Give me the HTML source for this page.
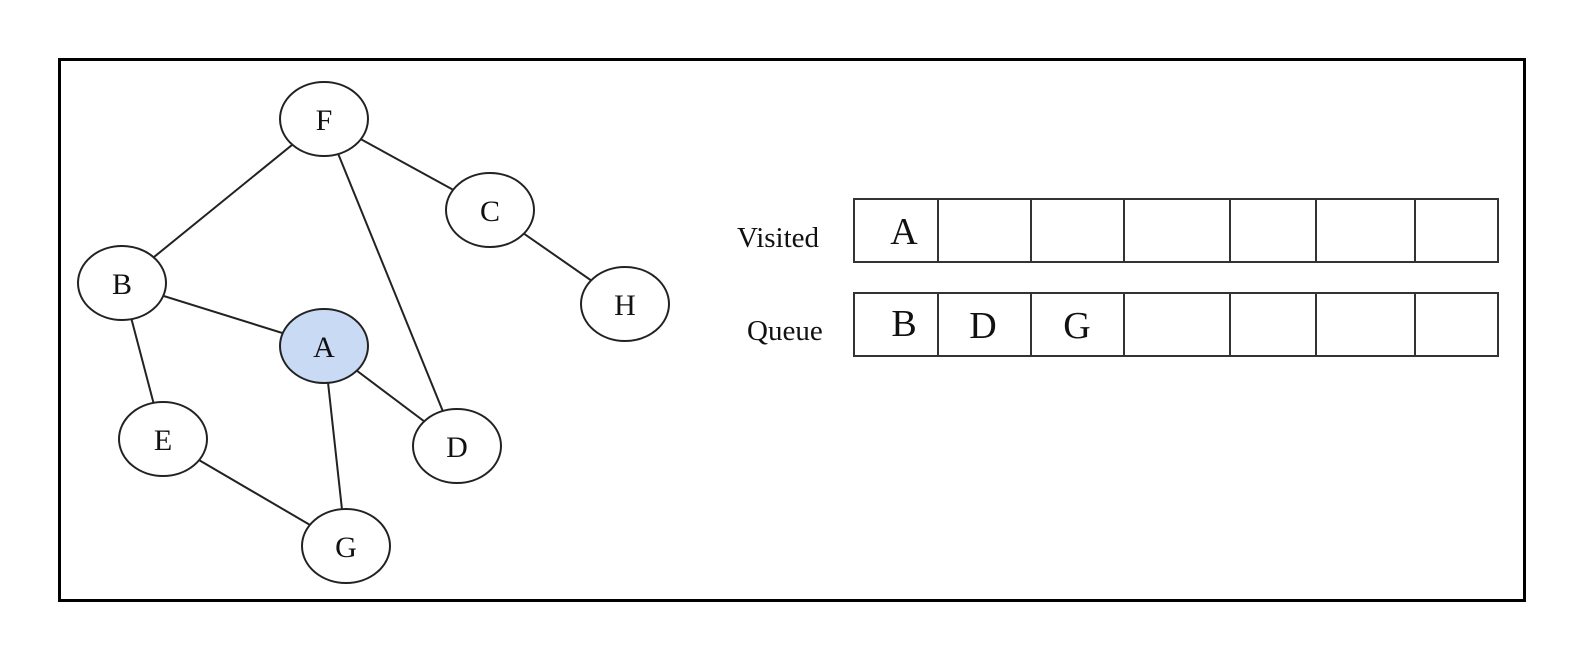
<!DOCTYPE html>
<html><head><meta charset="utf-8"><style>
html,body{margin:0;padding:0;background:#fff;}
svg{display:block;}
text{font-family:"Liberation Serif",serif;fill:#111;}
</style></head><body>
<svg width="1587" height="646" viewBox="0 0 1587 646" xmlns="http://www.w3.org/2000/svg">
<rect x="0" y="0" width="1587" height="646" fill="#fff"/>
<rect x="59.5" y="59.5" width="1465" height="541" fill="none" stroke="#000" stroke-width="3"/>
<g stroke="#222" stroke-width="2" fill="none">
<line x1="324" y1="119" x2="122" y2="283"/>
<line x1="324" y1="119" x2="490" y2="210"/>
<line x1="324" y1="119" x2="457" y2="446"/>
<line x1="490" y1="210" x2="625" y2="304"/>
<line x1="122" y1="283" x2="324" y2="346"/>
<line x1="122" y1="283" x2="163" y2="439"/>
<line x1="324" y1="346" x2="457" y2="446"/>
<line x1="324" y1="346" x2="346" y2="546"/>
<line x1="163" y1="439" x2="346" y2="546"/>
</g>
<g stroke="#222" stroke-width="2" fill="#fff">
<ellipse cx="324" cy="119" rx="44" ry="37"/>
<ellipse cx="490" cy="210" rx="44" ry="37"/>
<ellipse cx="122" cy="283" rx="44" ry="37"/>
<ellipse cx="625" cy="304" rx="44" ry="37"/>
<ellipse cx="324" cy="346" rx="44" ry="37" fill="#c9daf5"/>
<ellipse cx="163" cy="439" rx="44" ry="37"/>
<ellipse cx="457" cy="446" rx="44" ry="37"/>
<ellipse cx="346" cy="546" rx="44" ry="37"/>
</g>
<g font-size="30" text-anchor="middle">
<text x="324" y="130">F</text>
<text x="490" y="221">C</text>
<text x="122" y="294">B</text>
<text x="625" y="315">H</text>
<text x="324" y="357">A</text>
<text x="163" y="450">E</text>
<text x="457" y="457">D</text>
<text x="346" y="557">G</text>
</g>
<g stroke="#333" stroke-width="2" fill="none">
<rect x="854" y="199" width="644" height="63"/>
<rect x="854" y="293" width="644" height="63"/>
<path d="M938 199V262M1031 199V262M1124 199V262M1230 199V262M1316 199V262M1415 199V262"/>
<path d="M938 293V356M1031 293V356M1124 293V356M1230 293V356M1316 293V356M1415 293V356"/>
</g>
<text x="737" y="247" font-size="29">Visited</text>
<text x="747" y="340" font-size="29">Queue</text>
<g font-size="38" text-anchor="middle">
<text x="904" y="244">A</text>
<text x="904" y="336">B</text>
<text x="983" y="338">D</text>
<text x="1077" y="338">G</text>
</g>
</svg>
</body></html>
